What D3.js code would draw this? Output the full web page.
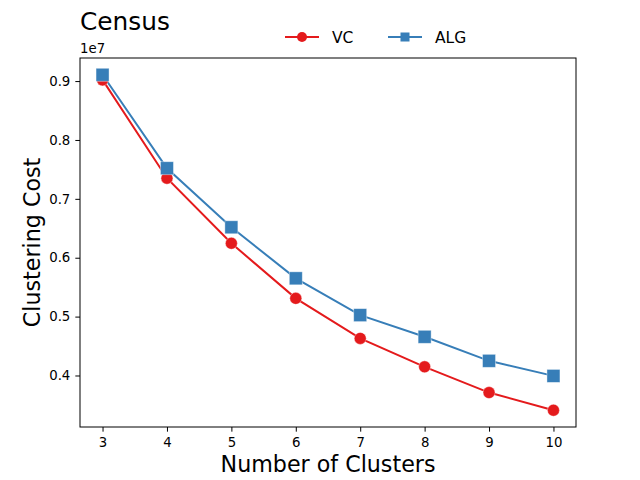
<!DOCTYPE html>
<html>
<head>
<meta charset="utf-8">
<script src="https://cdn.jsdelivr.net/npm/d3@7"></script>
<style>
body{margin:0;background:#fff;}
text{font-family:"DejaVu Sans",sans-serif;}
</style>
</head>
<body>
<svg id="chart" width="640" height="480"></svg>
<script>
const clusters = [3, 4, 5, 6, 7, 8, 9, 10];
const vcValues = [9020000, 7350000, 6245000, 5310000, 4630000, 4147000, 3710000, 3410000];
const algValues = [9107000, 7520000, 6517000, 5650000, 5025000, 4657000, 4249000, 3993000];
const yTicks = [4000000, 5000000, 6000000, 7000000, 8000000, 9000000];
const seriesNames = ["VC", "ALG"];
const seriesColors = ["#e41a1c", "#377eb8"];

const svg = d3.select("#chart");
const L = 80, R = 576, T = 58, B = 427;

const x = d3.scaleLinear().domain([2.65, 10.35]).range([L, R]);
const allV = vcValues.concat(algValues);
const yMin = d3.min(allV), yMax = d3.max(allV), pad = (yMax - yMin) * 0.05;
const y = d3.scaleLinear().domain([yMin - pad, yMax + pad]).range([B, T]);

svg.append("rect").attr("width", 640).attr("height", 480).attr("fill", "#fff");

// axes
const xAxis = svg.append("g").attr("transform", `translate(0,${B})`)
  .call(d3.axisBottom(x).tickValues(clusters).tickSize(4.67).tickPadding(6).tickFormat(d3.format("d")));
const yAxis = svg.append("g").attr("transform", `translate(${L},0)`)
  .call(d3.axisLeft(y).tickValues(yTicks).tickSize(4.67).tickPadding(5).tickFormat(d => (d / 1e7).toFixed(1)));
[xAxis, yAxis].forEach(g => {
  g.select(".domain").remove();
  g.selectAll("line").attr("stroke", "#000").attr("stroke-width", 1);
  g.selectAll("text").attr("font-size", "13.3px").attr("fill", "#000").attr("font-family", "DejaVu Sans");
});

// frame
svg.append("rect").attr("x", L).attr("y", T).attr("width", R - L).attr("height", B - T)
  .attr("fill", "none").attr("stroke", "#000").attr("stroke-width", 1);

// lines & markers
const series = [vcValues, algValues];
const line = d3.line().x((d, i) => x(clusters[i])).y(d => y(d));
series.forEach((vals, si) => {
  svg.append("path").datum(vals).attr("d", line).attr("fill", "none")
    .attr("stroke", seriesColors[si]).attr("stroke-width", 2);
});
series.forEach((vals, si) => {
  const g = svg.append("g");
  vals.forEach((v, i) => {
    if (si === 0) {
      g.append("circle").attr("cx", x(clusters[i])).attr("cy", y(v)).attr("r", 6)
        .attr("fill", seriesColors[si]).attr("stroke", "#fff").attr("stroke-opacity", 0.5).attr("stroke-width", 0.8);
    } else {
      g.append("rect").attr("x", x(clusters[i]) - 6.5).attr("y", y(v) - 6.5).attr("width", 13).attr("height", 13)
        .attr("fill", seriesColors[si]).attr("stroke", "#fff").attr("stroke-opacity", 0.5).attr("stroke-width", 0.8);
    }
  });
});

// offset text
svg.append("text").attr("x", L).attr("y", 53).attr("font-size", "13.3px").text("1e7");

// title
svg.append("text").attr("x", L).attr("y", 30).attr("font-size", "24.8px").text("Census");

// axis labels
svg.append("text").attr("x", (L + R) / 2).attr("y", 472).attr("text-anchor", "middle")
  .attr("font-size", "22.2px").text("Number of Clusters");
svg.append("text").attr("transform", `translate(40,${(T + B) / 2}) rotate(-90)`).attr("text-anchor", "middle")
  .attr("font-size", "22.2px").text("Clustering Cost");

// legend
const legX = [285, 388];
seriesNames.forEach((name, si) => {
  const g = svg.append("g").attr("transform", `translate(${legX[si]},37)`);
  g.append("line").attr("x1", 0).attr("x2", 34).attr("y1", 0).attr("y2", 0)
    .attr("stroke", seriesColors[si]).attr("stroke-width", 2);
  if (si === 0) g.append("circle").attr("cx", 17).attr("r", 5).attr("fill", seriesColors[si]);
  else g.append("rect").attr("x", 12.5).attr("y", -4.5).attr("width", 9).attr("height", 9).attr("fill", seriesColors[si]);
  g.append("text").attr("x", 47).attr("y", 5.5).attr("font-size", "15.5px").text(name);
});
</script>
</body>
</html>
